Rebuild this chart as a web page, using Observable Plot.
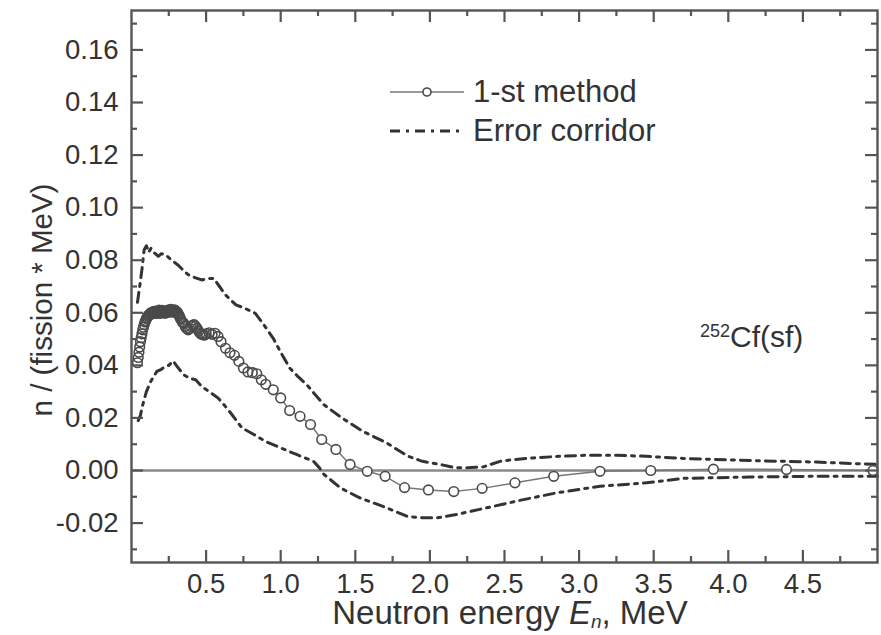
<!DOCTYPE html>
<html>
<head>
<meta charset="utf-8">
<script src="https://cdn.jsdelivr.net/npm/d3@7"></script>
<script src="https://cdn.jsdelivr.net/npm/@observablehq/plot@0.6"></script>
<style>
  html, body { margin: 0; padding: 0; background: #fff; }
  #wrap { position: relative; width: 881px; height: 635px; overflow: hidden; font-family: "Liberation Sans", Arial, sans-serif; color: #333; }
  .ov { position: absolute; white-space: nowrap; }
</style>
</head>
<body>
<div id="wrap"></div>
<script>
// ---- data ----
const mainE = [0.040,0.045,0.050,0.055,0.060,0.065,0.070,0.075,0.080,0.085,0.090,0.095,0.100,0.105,0.110,0.115,0.120,0.125,0.130,0.135,0.140,0.145,0.150,0.155,0.160,0.165,0.170,0.175,0.180,0.185,0.190,0.195,0.200,0.205,0.210,0.215,0.220,0.225,0.230,0.235,0.240,0.245,0.250,0.255,0.260,0.265,0.270,0.275,0.280,0.285,0.290,0.295,0.300,0.305,0.310,0.315,0.320,0.325,0.330,
  0.34,0.35,0.36,0.37,0.38,0.39,0.40,0.41,0.42,0.43,0.44,0.45,0.46,0.47,0.48,0.49,0.50,0.52,0.54,0.56,0.58,0.60,0.63,0.66,0.69,0.72,0.75,0.78,0.81,0.84,0.87,0.90,0.95,1.00,1.06,1.13,1.20,1.275,1.37,1.465,1.58,1.70,1.83,1.99,2.16,2.35,2.57,2.83,3.14,3.48,3.90,4.39,4.97];
const mainV = [0.041,0.043,0.045,0.047,0.049,0.0505,0.052,0.0535,0.0545,0.0555,0.0565,0.057,0.0578,0.0582,0.0588,0.059,0.0595,0.0592,0.060,0.0598,0.0603,0.0598,0.0605,0.060,0.0598,0.0606,0.0602,0.0598,0.0605,0.061,0.0603,0.0598,0.0605,0.0609,0.0601,0.0606,0.0603,0.0598,0.0604,0.0608,0.0601,0.0605,0.0611,0.0604,0.0608,0.0613,0.0606,0.0602,0.0609,0.0604,0.0611,0.0606,0.0601,0.0604,0.0598,0.0594,0.0588,0.0582,0.0575,
  0.0565,0.056,0.0548,0.054,0.0535,0.054,0.0548,0.0553,0.0555,0.0548,0.054,0.053,0.0522,0.0518,0.0516,0.0515,0.052,0.0524,0.0518,0.0522,0.051,0.049,0.0465,0.0448,0.0438,0.0415,0.039,0.0375,0.0372,0.0368,0.0345,0.0328,0.0307,0.0276,0.0228,0.0206,0.0175,0.0118,0.008,0.0023,-0.0003,-0.0022,-0.0065,-0.0074,-0.008,-0.0068,-0.0047,-0.0022,-0.0003,0.0,0.0005,0.0004,0.0];

const upperE = [0.04,0.055,0.07,0.085,0.10,0.115,0.13,0.15,0.18,0.20,0.23,0.27,0.315,0.35,0.38,0.42,0.47,0.51,0.55,0.59,0.63,0.70,0.76,0.83,0.88,0.95,1.00,1.06,1.12,1.175,1.29,1.41,1.55,1.71,1.85,1.95,2.07,2.17,2.27,2.36,2.47,2.57,2.70,2.87,3.05,3.25,3.45,3.70,4.14,4.59,5.0];
const upperV = [0.064,0.070,0.0765,0.084,0.0855,0.083,0.0845,0.083,0.0815,0.0825,0.082,0.080,0.078,0.076,0.0745,0.0735,0.0725,0.073,0.0731,0.070,0.0668,0.063,0.0617,0.0598,0.056,0.0503,0.045,0.039,0.0355,0.0326,0.025,0.020,0.0149,0.0105,0.0055,0.0035,0.0023,0.001,0.0011,0.0014,0.0035,0.0042,0.0048,0.0054,0.0058,0.0058,0.0054,0.0046,0.0038,0.0032,0.0023];

const lowerE = [0.045,0.06,0.07,0.085,0.10,0.13,0.17,0.20,0.226,0.25,0.28,0.30,0.35,0.39,0.43,0.47,0.52,0.58,0.62,0.67,0.74,0.82,0.90,1.00,1.11,1.22,1.26,1.29,1.40,1.53,1.71,1.85,1.95,2.05,2.18,2.38,2.60,2.85,3.14,3.45,3.70,4.14,4.59,5.0];
const lowerV = [0.019,0.021,0.0238,0.027,0.030,0.034,0.0377,0.0385,0.0396,0.040,0.0417,0.040,0.0364,0.0351,0.0345,0.032,0.030,0.0276,0.025,0.0215,0.0162,0.0137,0.011,0.0086,0.006,0.0035,0.001,-0.0015,-0.0066,-0.0104,-0.0142,-0.0175,-0.018,-0.018,-0.0167,-0.0142,-0.0114,-0.0085,-0.006,-0.0047,-0.003,-0.0025,-0.0022,-0.0022];

const xMajor = [0.5,1.0,1.5,2.0,2.5,3.0,3.5,4.0,4.5];
const xMinor = [0.25,0.75,1.25,1.75,2.25,2.75,3.25,3.75,4.25,4.75];
const yMajor = [-0.02,0.00,0.02,0.04,0.06,0.08,0.10,0.12,0.14,0.16];
const yMinor = [-0.03,-0.01,0.01,0.03,0.05,0.07,0.09,0.11,0.13,0.15,0.17];

const seriesNames = ["1-st method", "Error corridor"];
const xTitle = "Neutron energy";
const yTitle = "n / (fission * MeV)";
const sampleLabel = "Cf(sf)";
const sampleMass = "252";

const toRows = (E, V) => E.map((e, i) => ({E: e, v: V[i]}));
const main = toRows(mainE, mainV);
const upper = toRows(upperE, upperV);
const lower = toRows(lowerE, lowerV);

const W = 881, H = 635, mL = 131, mR = 4, mT = 10, mB = 73;
const fw = W - mL - mR, fh = H - mT - mB;
const dash = "10,6,3,6";
const tickCol = "#555";
const tickStyle = {stroke: tickCol, strokeWidth: 2.2};
const majLen = 12, minLen = 6;

const chart = Plot.plot({
  width: W,
  height: H,
  marginLeft: mL,
  marginRight: mR,
  marginTop: mT,
  marginBottom: mB,
  style: {fontFamily: "Liberation Sans, Arial, sans-serif", fontSize: "27.5px", color: "#333", background: "white"},
  x: {domain: [0, 5]},
  y: {domain: [-0.035, 0.175]},
  marks: [
    Plot.ruleY([0], {stroke: "#8a8a8a", strokeWidth: 2.4}),
    Plot.line(upper, {x: "E", y: "v", stroke: "#333", strokeWidth: 3, strokeDasharray: dash}),
    Plot.line(lower, {x: "E", y: "v", stroke: "#333", strokeWidth: 3, strokeDasharray: dash}),
    Plot.line(main, {x: "E", y: "v", stroke: "#777", strokeWidth: 1.5}),
    Plot.dot(main, {x: "E", y: "v", r: 4.8, stroke: "none", fill: "white"}),
    Plot.dot(main, {x: "E", y: "v", r: 4.8, stroke: "#4a4a4a", fill: "none", strokeWidth: 1.6}),
    Plot.frame({stroke: "#555", strokeWidth: 2.4}),
    // tick labels
    Plot.axisX(xMajor, {anchor: "bottom", tickSize: 0, tickPadding: 11, tickFormat: d => d.toFixed(1), label: null, fill: "#333"}),
    Plot.axisY(yMajor, {anchor: "left", tickSize: 0, tickPadding: 13, tickFormat: d => d.toFixed(2), label: null, fill: "#333"}),
    // inward ticks on all four sides
    Plot.tickX(xMajor, {x: d => d, insetTop: fh - majLen, ...tickStyle}),
    Plot.tickX(xMinor, {x: d => d, insetTop: fh - minLen, ...tickStyle}),
    Plot.tickX(xMajor, {x: d => d, insetBottom: fh - majLen, ...tickStyle}),
    Plot.tickX(xMinor, {x: d => d, insetBottom: fh - minLen, ...tickStyle}),
    Plot.tickY(yMajor, {y: d => d, insetRight: fw - majLen, ...tickStyle}),
    Plot.tickY(yMinor, {y: d => d, insetRight: fw - minLen, ...tickStyle}),
    Plot.tickY(yMajor, {y: d => d, insetLeft: fw - majLen, ...tickStyle}),
    Plot.tickY(yMinor, {y: d => d, insetLeft: fw - minLen, ...tickStyle})
  ]
});

const wrap = document.getElementById("wrap");
wrap.appendChild(chart);

// overlays: legend, sample label, axis titles
const legend = document.createElement("div");
legend.className = "ov";
legend.style.left = "388px";
legend.style.top = "72px";
legend.innerHTML = `
<div style="display:flex;align-items:center;height:39px;">
  <svg width="78" height="20" style="margin-right:7px"><line x1="2" y1="10" x2="76" y2="10" stroke="#777" stroke-width="1.6"/><circle cx="39" cy="10" r="4" fill="white" stroke="#4a4a4a" stroke-width="1.6"/></svg>
  <span style="font-size:31px;color:#333">${seriesNames[0]}</span>
</div>
<div style="display:flex;align-items:center;height:39px;">
  <svg width="78" height="20" style="margin-right:7px"><line x1="2" y1="10" x2="76" y2="10" stroke="#333" stroke-width="3" stroke-dasharray="${dash}"/></svg>
  <span style="font-size:31px;color:#333">${seriesNames[1]}</span>
</div>`;
wrap.appendChild(legend);

const cf = document.createElement("div");
cf.className = "ov";
cf.style.left = "700px";
cf.style.top = "320px";
cf.style.fontSize = "30px";
cf.innerHTML = `<sup style="font-size:18px;vertical-align:0.55em">${sampleMass}</sup>${sampleLabel}`;
wrap.appendChild(cf);

const xt = document.createElement("div");
xt.className = "ov";
xt.style.left = "510px";
xt.style.top = "596px";
xt.style.transform = "translateX(-50%)";
xt.style.fontSize = "33px";
xt.style.lineHeight = "33px";
xt.innerHTML = `${xTitle} <i>E</i><sub style="font-size:19px;vertical-align:-0.22em"><i>n</i></sub>, MeV`;
wrap.appendChild(xt);

const yt = document.createElement("div");
yt.className = "ov";
yt.style.left = "42px";
yt.style.top = "300px";
yt.style.fontSize = "29.5px";
yt.style.transform = "translate(-50%,-50%) rotate(-90deg)";
yt.textContent = yTitle;
wrap.appendChild(yt);
</script>
</body>
</html>
